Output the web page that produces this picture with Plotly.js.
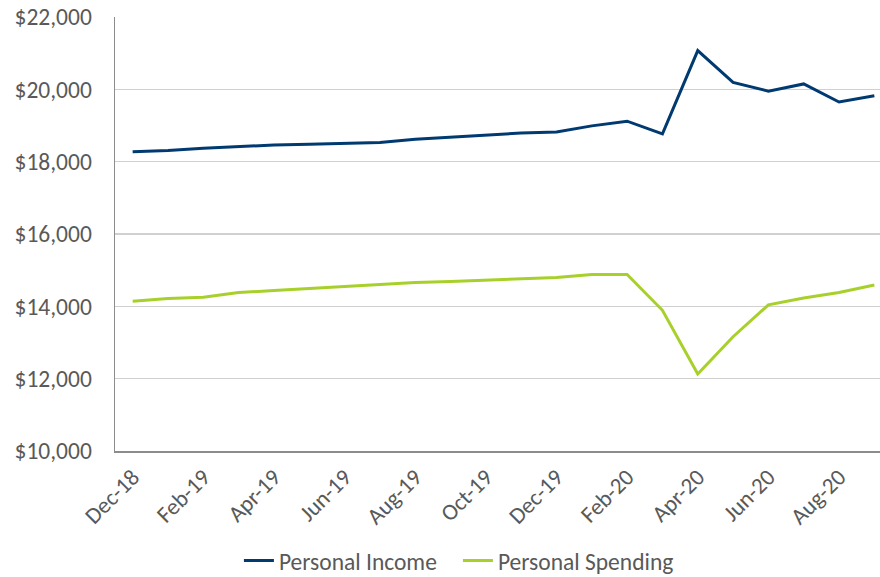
<!DOCTYPE html>
<html><head><meta charset="utf-8">
<script src="https://cdn.plot.ly/plotly-3.0.1.min.js"></script>
<style>html,body{margin:0;padding:0;background:#fff}#chart{width:880px;height:577px}</style>
</head><body><div id="chart"></div>
<script>
const months = ["Dec-18","Jan-19","Feb-19","Mar-19","Apr-19","May-19","Jun-19","Jul-19","Aug-19","Sep-19","Oct-19","Nov-19","Dec-19","Jan-20","Feb-20","Mar-20","Apr-20","May-20","Jun-20","Jul-20","Aug-20","Sep-20"];
const personalIncome = [18275,18310,18370,18420,18460,18480,18500,18530,18620,18680,18720,18790,18820,18990,19120,18770,21070,20190,19950,20150,19650,19820];
const personalSpending = [14140,14220,14250,14380,14440,14500,14560,14620,14660,14690,14730,14750,14800,14880,14880,13890,12130,13160,14040,14230,14380,14590];
const tickLabels = ["Dec-18","Feb-19","Apr-19","Jun-19","Aug-19","Oct-19","Dec-19","Feb-20","Apr-20","Jun-20","Aug-20"];
const yTicks = [10000,12000,14000,16000,18000,20000,22000];

const font = "Carlito, 'Liberation Sans Narrow', 'DejaVu Sans Condensed', 'Noto Sans', sans-serif";
const traces = [
  {x: months, y: personalIncome, name: "Personal Income", type: "scatter", mode: "lines",
   line: {color: "#003A70", width: 3}},
  {x: months, y: personalSpending, name: "Personal Spending", type: "scatter", mode: "lines",
   line: {color: "#A8D02B", width: 3}}
];
const layout = {
  width: 880, height: 577,
  margin: {l: 115, r: 0, t: 17, b: 126, autoexpand: false},
  paper_bgcolor: "#fff", plot_bgcolor: "#fff",
  font: {family: font, color: "#595959", size: 23.5},
  showlegend: true,
  legend: {orientation: "h", x: 0.2715, xref: "container", xanchor: "left",
           y: 0.028, yref: "container", yanchor: "middle", entrywidth: 174,
           font: {size: 23.5, color: "#595959"}, itemwidth: 30, tracegroupgap: 0},
  xaxis: {type: "category", range: [-0.5, 21.16], tickvals: tickLabels, ticktext: tickLabels,
          tickangle: -45, showgrid: false, zeroline: false, showline: true, automargin: false,
          linecolor: "#8c8c8c", linewidth: 1.5, ticks: "", tickfont: {size: 23, color: "#595959"},
          ticklabelstandoff: 2},
  yaxis: {range: [10000, 22000], tickvals: yTicks, tickformat: "$,.0f", automargin: false,
          showgrid: true, gridcolor: "#d0d0d0", gridwidth: 1.2, zeroline: false,
          showline: true, linecolor: "#8c8c8c", linewidth: 1.5, ticks: "",
          tickfont: {size: 23.5, color: "#595959"}, ticklabelstandoff: 17}
};
Plotly.newPlot("chart", traces, layout, {displayModeBar: false, staticPlot: true});
</script></body></html>
